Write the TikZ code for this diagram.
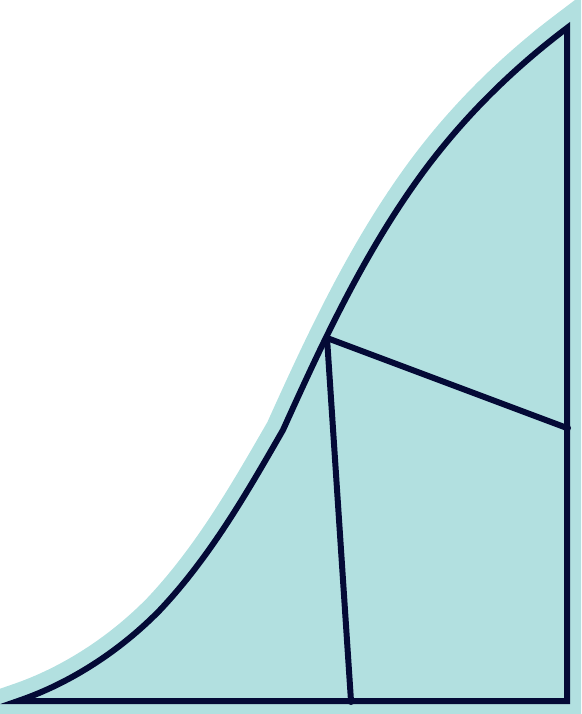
\documentclass[tikz,border=0pt]{standalone}
\usepackage{xcolor}
\usepackage{tikz}
\definecolor{halo}{HTML}{B2E0E0}
\definecolor{ink}{HTML}{040A36}

\begin{document}
\begin{tikzpicture}[x=1pt, y=-1pt, line join=miter,
    edge/.style={draw=ink, line width=6pt},
    rim/.style={fill=halo, draw=halo, line width=35pt},
    knot/.style={fill=ink}]
    \useasboundingbox (0,0) rectangle (581,714);
    \clip (0,0) rectangle (581,714);
    \coordinate (L) at (18,701);
    \coordinate (M) at (160,610);
    \coordinate (K) at (283,430);
    \coordinate (N) at (427,167);
    \coordinate (T) at (567,28);
    \coordinate (C) at (567,701);
    \coordinate (J) at (327,338);
    \coordinate (R) at (567,428);
    \coordinate (B) at (351,701);
    % light band round the region
    \path[rim] (L) .. controls (71,683) and (121,650) .. (M)
        .. controls (210,557) and (246.5,493.5) .. (K)
        .. controls (324,339) and (367,247) .. (N)
        .. controls (467,114) and (514,68) .. (T)
        -- (C) -- cycle;
    % outline
    \path[edge] (L) .. controls (71,683) and (121,650) .. (M)
        .. controls (210,557) and (246.5,493.5) .. (K)
        .. controls (324,339) and (367,247) .. (N)
        .. controls (467,114) and (514,68) .. (T)
        -- (C) -- cycle;
    \draw[edge] (J) -- (R);
    \draw[edge] (J) -- (B);
    \fill[knot] (R) circle (4);
    \fill[knot] (B) circle (4);
\end{tikzpicture}
\end{document}
